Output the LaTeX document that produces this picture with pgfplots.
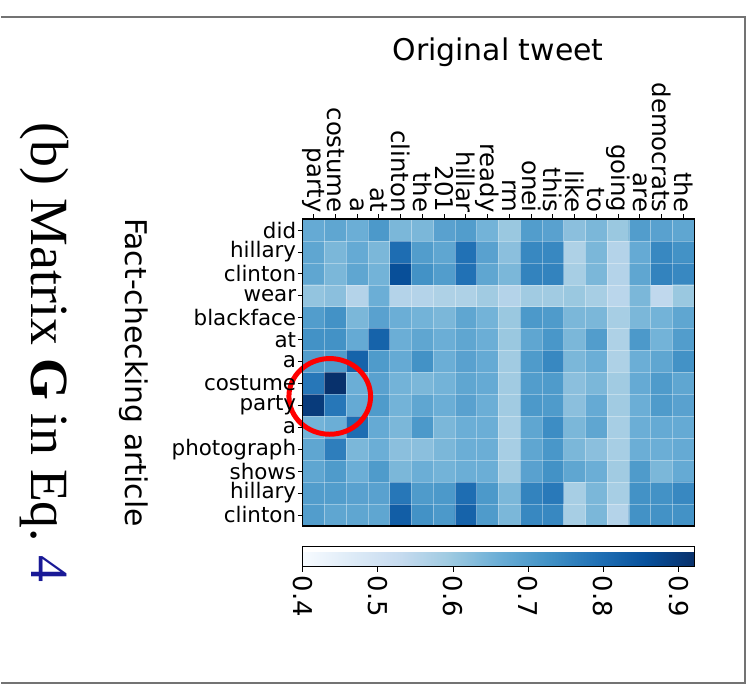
\documentclass[border=0pt]{standalone}
\usepackage{pgfplots}
\pgfplotsset{compat=1.18}
\usepackage{fontspec}
\setmainfont{DejaVu Sans}
\newfontfamily\serifcap{Liberation Serif}
\definecolor{linkblue}{RGB}{25,25,150}
\definecolor{framegray}{RGB}{115,115,115}
\begin{document}
\begin{tikzpicture}
\path (0pt,0pt) rectangle (752pt,-688pt);
\draw[framegray, line width=2pt] (-2pt,-17pt) -- (745pt,-17pt) -- (745pt,-686pt) -- (-2pt,-686pt);
\node[font=\fontsize{30}{30}\selectfont] at (497pt,-52pt) {Original tweet};
\node[rotate=-90, font=\fontsize{30}{30}\selectfont] at (131pt,-374pt) {Fact-checking article};
\node[rotate=-90, font=\serifcap\fontsize{54}{54}\selectfont] at (42pt,-354pt) {(b) Matrix \textbf{G} in Eq.~\textcolor{linkblue}{4}};
\begin{axis}[
 at={(301pt,-528pt)}, anchor=south west,
 scale only axis, width=393pt, height=308pt,
 xmin=-0.5, xmax=17.5, ymin=-0.5, ymax=13.5, y dir=reverse,
 enlargelimits=false, axis on top, clip=false,
 colormap={blues}{rgb255=(247,251,255) rgb255=(222,235,247) rgb255=(198,219,239) rgb255=(158,202,225) rgb255=(107,174,214) rgb255=(66,146,198) rgb255=(33,113,181) rgb255=(8,81,156) rgb255=(8,48,107)},
 point meta min=0.4, point meta max=0.921,
 xtick={0,...,17}, ytick={0,...,13},
 xticklabels={party,costume,a,at,clinton,the,201,hillar,ready,rm,onei,this,like,to,going,are,democrats,the},
 yticklabels={did,hillary,clinton,wear,blackface,at,a,costume,party,a,photograph,shows,hillary,clinton},
 xtick pos=right, xticklabel pos=right, ytick pos=left,
 tick align=outside, major tick length=5pt,
 every tick/.style={black, line width=0.9pt},
 axis line style={line width=1.3pt},
 xticklabel style={rotate=-90, anchor=east, font=\fontsize{24.5}{24.5}\selectfont, inner sep=1.5pt},
 yticklabel style={font=\fontsize{21.5}{21}\selectfont, inner sep=1.5pt},
 colorbar horizontal,
 colorbar style={at={(0.5,-0.068)}, anchor=north, scale only axis, width=393pt, height=20pt,
   xtick={0.4,0.5,0.6,0.7,0.8,0.9},
   xtick pos=left, xticklabel pos=left, tick align=outside, major tick length=5pt,
   every tick/.style={black, line width=0.9pt},
   axis line style={line width=1.3pt},
   xticklabel style={rotate=-90, anchor=west, font=\fontsize{26}{26}\selectfont, inner sep=4pt,
     /pgf/number format/fixed, /pgf/number format/fixed zerofill, /pgf/number format/precision=1, /pgf/number format/assume math mode=true}},
]
\addplot[matrix plot*, mesh/cols=18, point meta=explicit] coordinates {
(0,0)[0.67] (1,0)[0.68] (2,0)[0.66] (3,0)[0.71] (4,0)[0.64] (5,0)[0.64] (6,0)[0.69] (7,0)[0.70] (8,0)[0.65] (9,0)[0.60] (10,0)[0.70] (11,0)[0.69] (12,0)[0.62] (13,0)[0.64] (14,0)[0.60] (15,0)[0.70] (16,0)[0.69] (17,0)[0.68]

(0,1)[0.68] (1,1)[0.64] (2,1)[0.67] (3,1)[0.64] (4,1)[0.80] (5,1)[0.70] (6,1)[0.68] (7,1)[0.79] (8,1)[0.69] (9,1)[0.62] (10,1)[0.745] (11,1)[0.745] (12,1)[0.57] (13,1)[0.64] (14,1)[0.56] (15,1)[0.67] (16,1)[0.745] (17,1)[0.725]

(0,2)[0.68] (1,2)[0.64] (2,2)[0.68] (3,2)[0.65] (4,2)[0.86] (5,2)[0.725] (6,2)[0.70] (7,2)[0.79] (8,2)[0.68] (9,2)[0.64] (10,2)[0.755] (11,2)[0.755] (12,2)[0.58] (13,2)[0.64] (14,2)[0.56] (15,2)[0.68] (16,2)[0.755] (17,2)[0.745]

(0,3)[0.61] (1,3)[0.62] (2,3)[0.56] (3,3)[0.66] (4,3)[0.56] (5,3)[0.56] (6,3)[0.57] (7,3)[0.57] (8,3)[0.59] (9,3)[0.56] (10,3)[0.59] (11,3)[0.59] (12,3)[0.60] (13,3)[0.58] (14,3)[0.55] (15,3)[0.64] (16,3)[0.54] (17,3)[0.60]

(0,4)[0.70] (1,4)[0.725] (2,4)[0.64] (3,4)[0.69] (4,4)[0.66] (5,4)[0.65] (6,4)[0.64] (7,4)[0.68] (8,4)[0.65] (9,4)[0.60] (10,4)[0.71] (11,4)[0.705] (12,4)[0.64] (13,4)[0.64] (14,4)[0.58] (15,4)[0.64] (16,4)[0.65] (17,4)[0.68]

(0,5)[0.725] (1,5)[0.725] (2,5)[0.67] (3,5)[0.82] (4,5)[0.66] (5,5)[0.68] (6,5)[0.66] (7,5)[0.68] (8,5)[0.66] (9,5)[0.60] (10,5)[0.68] (11,5)[0.715] (12,5)[0.64] (13,5)[0.70] (14,5)[0.57] (15,5)[0.71] (16,5)[0.65] (17,5)[0.70]

(0,6)[0.70] (1,6)[0.705] (2,6)[0.82] (3,6)[0.705] (4,6)[0.67] (5,6)[0.725] (6,6)[0.66] (7,6)[0.69] (8,6)[0.67] (9,6)[0.59] (10,6)[0.705] (11,6)[0.745] (12,6)[0.64] (13,6)[0.66] (14,6)[0.57] (15,6)[0.66] (16,6)[0.68] (17,6)[0.725]

(0,7)[0.78] (1,7)[0.92] (2,7)[0.66] (3,7)[0.69] (4,7)[0.65] (5,7)[0.64] (6,7)[0.65] (7,7)[0.68] (8,7)[0.67] (9,7)[0.59] (10,7)[0.70] (11,7)[0.705] (12,7)[0.62] (13,7)[0.64] (14,7)[0.59] (15,7)[0.67] (16,7)[0.705] (17,7)[0.68]

(0,8)[0.90] (1,8)[0.78] (2,8)[0.67] (3,8)[0.705] (4,8)[0.65] (5,8)[0.68] (6,8)[0.66] (7,8)[0.69] (8,8)[0.66] (9,8)[0.59] (10,8)[0.71] (11,8)[0.705] (12,8)[0.62] (13,8)[0.67] (14,8)[0.59] (15,8)[0.66] (16,8)[0.705] (17,8)[0.69]

(0,9)[0.65] (1,9)[0.66] (2,9)[0.80] (3,9)[0.67] (4,9)[0.64] (5,9)[0.71] (6,9)[0.64] (7,9)[0.66] (8,9)[0.66] (9,9)[0.58] (10,9)[0.68] (11,9)[0.735] (12,9)[0.64] (13,9)[0.68] (14,9)[0.58] (15,9)[0.66] (16,9)[0.67] (17,9)[0.67]

(0,10)[0.68] (1,10)[0.765] (2,10)[0.64] (3,10)[0.66] (4,10)[0.62] (5,10)[0.62] (6,10)[0.64] (7,10)[0.66] (8,10)[0.66] (9,10)[0.58] (10,10)[0.68] (11,10)[0.715] (12,10)[0.64] (13,10)[0.62] (14,10)[0.58] (15,10)[0.66] (16,10)[0.66] (17,10)[0.67]

(0,11)[0.68] (1,11)[0.705] (2,11)[0.66] (3,11)[0.705] (4,11)[0.64] (5,11)[0.66] (6,11)[0.65] (7,11)[0.66] (8,11)[0.66] (9,11)[0.59] (10,11)[0.69] (11,11)[0.725] (12,11)[0.68] (13,11)[0.66] (14,11)[0.59] (15,11)[0.705] (16,11)[0.64] (17,11)[0.67]

(0,12)[0.70] (1,12)[0.70] (2,12)[0.69] (3,12)[0.69] (4,12)[0.78] (5,12)[0.705] (6,12)[0.71] (7,12)[0.80] (8,12)[0.71] (9,12)[0.64] (10,12)[0.755] (11,12)[0.775] (12,12)[0.58] (13,12)[0.64] (14,12)[0.58] (15,12)[0.725] (16,12)[0.725] (17,12)[0.745]

(0,13)[0.70] (1,13)[0.68] (2,13)[0.68] (3,13)[0.68] (4,13)[0.83] (5,13)[0.725] (6,13)[0.71] (7,13)[0.82] (8,13)[0.705] (9,13)[0.64] (10,13)[0.745] (11,13)[0.745] (12,13)[0.58] (13,13)[0.64] (14,13)[0.56] (15,13)[0.725] (16,13)[0.725] (17,13)[0.725]
};
\pgfplotsinvokeforeach{0.5,1.5,...,16.5}{\draw[white, opacity=0.35, line width=0.6pt] (axis cs:#1,-0.5) -- (axis cs:#1,13.5);}
\pgfplotsinvokeforeach{0.5,1.5,...,12.5}{\draw[white, opacity=0.35, line width=0.6pt] (axis cs:-0.5,#1) -- (axis cs:17.5,#1);}
\draw[red, line width=5pt] (axis cs:0.74,7.59) ellipse [x radius=41pt, y radius=38pt];
\end{axis}
\end{tikzpicture}
\end{document}
